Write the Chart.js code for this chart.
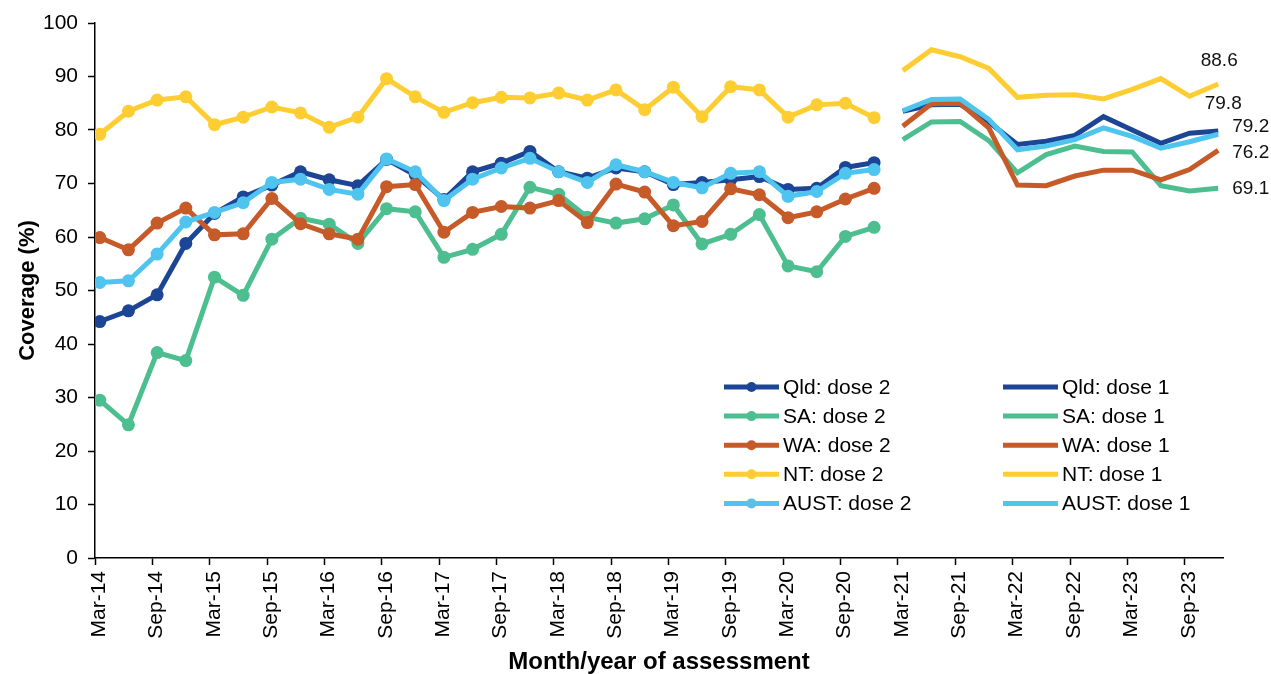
<!DOCTYPE html>
<html>
<head>
<meta charset="utf-8">
<script src="https://cdn.jsdelivr.net/npm/chart.js@4/dist/chart.umd.min.js"></script>
<style>
  html, body { margin: 0; padding: 0; background: #fff; }
  #wrap { width: 1271px; height: 674px; position: relative; }
</style>
</head>
<body>
<div id="wrap"><canvas id="chart"></canvas></div>
<script>
// Quarterly assessment rounds, March 2014 to December 2023
const quarters = [
  'Mar-14','Jun-14','Sep-14','Dec-14','Mar-15','Jun-15','Sep-15','Dec-15',
  'Mar-16','Jun-16','Sep-16','Dec-16','Mar-17','Jun-17','Sep-17','Dec-17',
  'Mar-18','Jun-18','Sep-18','Dec-18','Mar-19','Jun-19','Sep-19','Dec-19',
  'Mar-20','Jun-20','Sep-20','Dec-20','Mar-21','Jun-21','Sep-21','Dec-21',
  'Mar-22','Jun-22','Sep-22','Dec-22','Mar-23','Jun-23','Sep-23','Dec-23'
];
// Axis labels, one every six months
const tickLabels = [
  'Mar-14','Sep-14','Mar-15','Sep-15','Mar-16','Sep-16','Mar-17','Sep-17',
  'Mar-18','Sep-18','Mar-19','Sep-19','Mar-20','Sep-20','Mar-21','Sep-21',
  'Mar-22','Sep-22','Mar-23','Sep-23'
];

const states = ['Qld', 'SA', 'WA', 'NT', 'AUST'];
const stateColors = ['#1c4596', '#4dbe90', '#c75a29', '#fecd31', '#4fc4ef'];

// Dose 2 coverage (%), Mar-14 to Dec-20
const qldDose2  = [44.2, 46.2, 49.2, 58.8, 64.4, 67.5, 69.7, 72.2, 70.7, 69.6, 74.5, 71.6, 67.0, 72.2,
                   73.8, 76.0, 72.2, 71.0, 72.9, 72.2, 69.8, 70.2, 70.7, 71.3, 68.9, 69.1, 73.0, 73.9];
const saDose2   = [29.5, 24.9, 38.4, 36.9, 52.5, 49.1, 59.6, 63.5, 62.4, 58.8, 65.3, 64.7, 56.2, 57.7,
                   60.5, 69.3, 68.0, 63.7, 62.6, 63.4, 66.0, 58.7, 60.5, 64.2, 54.6, 53.5, 60.1, 61.8];
const waDose2   = [59.9, 57.6, 62.6, 65.4, 60.4, 60.6, 67.2, 62.5, 60.6, 59.6, 69.4, 69.8, 60.9, 64.6,
                   65.7, 65.4, 66.8, 62.7, 69.9, 68.4, 62.1, 62.9, 69.0, 67.9, 63.6, 64.7, 67.1, 69.1];
const ntDose2   = [79.2, 83.5, 85.6, 86.2, 81.0, 82.4, 84.3, 83.2, 80.5, 82.4, 89.6, 86.2, 83.3, 85.1,
                   86.1, 86.0, 86.9, 85.6, 87.5, 83.8, 88.0, 82.5, 88.1, 87.5, 82.4, 84.7, 85.0, 82.3];
const austDose2 = [51.5, 51.8, 56.8, 62.8, 64.6, 66.4, 70.2, 70.8, 68.9, 68.0, 74.6, 72.2, 66.8, 70.8,
                   72.9, 74.7, 72.2, 70.2, 73.5, 72.2, 70.2, 69.2, 71.9, 72.2, 67.6, 68.5, 71.9, 72.6];

// Dose 1 coverage (%), Mar-21 to Dec-23
const qldDose1  = [83.5, 84.7, 84.8, 81.5, 77.3, 77.9, 79.0, 82.5, 80.0, 77.5, 79.4, 79.8];
const saDose1   = [78.2, 81.5, 81.6, 78.0, 72.0, 75.4, 77.0, 76.0, 75.9, 69.6, 68.6, 69.1];
const waDose1   = [80.7, 84.9, 85.0, 80.4, 69.7, 69.6, 71.4, 72.5, 72.5, 70.7, 72.6, 76.2];
const ntDose1   = [91.1, 95.0, 93.7, 91.5, 86.1, 86.5, 86.6, 85.8, 87.6, 89.6, 86.3, 88.6];
const austDose1 = [83.6, 85.7, 85.8, 82.0, 76.3, 77.0, 78.2, 80.4, 78.8, 76.6, 77.8, 79.2];

const dose2Series = [qldDose2, saDose2, waDose2, ntDose2, austDose2];
const dose1Series = [qldDose1, saDose1, waDose1, ntDose1, austDose1];
const dose1Start = quarters.indexOf('Mar-21');

// The x axis counts months from March 2014; each assessment sits mid-month.
const monthOf = q => quarters.indexOf(q) * 3 + 0.5;
const toPoints = (values, startIdx) =>
  values.map((v, i) => ({ x: monthOf(quarters[startIdx + i]), y: v }));

// Label placement for the final dose 1 values (offsets from the last point)
const endLabelPlacement = [
  { dx: 5,  dy: -27, align: 'center' },  // Qld
  { dx: 14, dy: 0,   align: 'left' },    // SA
  { dx: 14, dy: 2,   align: 'left' },    // WA
  { dx: 1,  dy: -23, align: 'center' },  // NT
  { dx: 14, dy: -8,  align: 'left' }     // AUST
];

const LINE_W = 5;

const datasets = [];
dose2Series.forEach((vals, s) => datasets.push({
  label: states[s] + ': dose 2',
  data: toPoints(vals, 0),
  borderColor: stateColors[s],
  backgroundColor: stateColors[s],
  pointBackgroundColor: stateColors[s],
  borderWidth: LINE_W,
  pointRadius: 6.5,
  pointHoverRadius: 6.5,
  pointBorderWidth: 0,
  tension: 0,
  withMarkers: true
}));
dose1Series.forEach((vals, s) => datasets.push({
  label: states[s] + ': dose 1',
  data: toPoints(vals, dose1Start),
  borderColor: stateColors[s],
  backgroundColor: stateColors[s],
  borderWidth: LINE_W,
  pointRadius: 0,
  pointHoverRadius: 0,
  tension: 0,
  withMarkers: false,
  endLabel: endLabelPlacement[s]
}));
// later series paint over earlier ones
datasets.forEach((d, i) => { d.order = datasets.length - i; });

const FONT = '"Liberation Sans", Arial, Helvetica, sans-serif';

// Two-column legend inside the plot: dose 2 on the left, dose 1 on the right
const twoColumnLegend = {
  id: 'twoColumnLegend',
  afterDraw(chart) {
    const ctx = chart.ctx;
    const colX = [724, 1003];
    const rowY0 = 387, rowGap = 29.1, lineLen = 55, textGap = 4;
    ctx.save();
    ctx.font = '21px ' + FONT;
    ctx.textBaseline = 'middle';
    ctx.textAlign = 'left';
    chart.data.datasets.forEach((ds, i) => {
      const col = Math.floor(i / 5), row = i % 5;
      const x = colX[col], y = rowY0 + row * rowGap;
      ctx.strokeStyle = ds.borderColor;
      ctx.lineWidth = LINE_W;
      ctx.beginPath();
      ctx.moveTo(x, y);
      ctx.lineTo(x + lineLen, y);
      ctx.stroke();
      if (ds.withMarkers) {
        ctx.fillStyle = ds.borderColor;
        ctx.beginPath();
        ctx.arc(x + lineLen / 2, y, 5, 0, Math.PI * 2);
        ctx.fill();
      }
      ctx.fillStyle = '#000';
      ctx.fillText(ds.label, x + lineLen + textGap, y + 1);
    });
    ctx.restore();
  }
};

// Value labels at the last dose 1 point of each series
const endValueLabels = {
  id: 'endValueLabels',
  afterDatasetsDraw(chart) {
    const ctx = chart.ctx;
    ctx.save();
    ctx.font = '19px ' + FONT;
    ctx.fillStyle = '#111';
    ctx.textBaseline = 'middle';
    chart.data.datasets.forEach((ds, i) => {
      if (!ds.endLabel) return;
      const meta = chart.getDatasetMeta(i);
      const pt = meta.data[meta.data.length - 1];
      const value = ds.data[ds.data.length - 1].y;
      ctx.textAlign = ds.endLabel.align;
      ctx.fillText(value.toFixed(1), pt.x + ds.endLabel.dx, pt.y + ds.endLabel.dy);
    });
    ctx.restore();
  }
};

Chart.defaults.font.family = FONT;
Chart.defaults.color = '#000';

new Chart(document.getElementById('chart'), {
  type: 'line',
  data: { datasets },
  options: {
    responsive: true,
    maintainAspectRatio: false,
    animation: false,
    events: [],
    devicePixelRatio: 1,
    layout: { padding: { left: 15, top: 23, right: 48, bottom: 0 } },
    plugins: { legend: { display: false }, tooltip: { enabled: false } },
    scales: {
      x: {
        type: 'linear',
        min: 0,
        max: 118,   // January 2024
        afterBuildTicks: scale => { scale.ticks = tickLabels.map((_, i) => ({ value: i * 6 })); },
        afterFit: scale => { scale.height = 116; },
        ticks: {
          autoSkip: false,
          minRotation: 90,
          maxRotation: 90,
          padding: 6,
          labelOffset: 4,
          color: '#000',
          font: { size: 21 },
          callback: (value, index) => tickLabels[index]
        },
        grid: { drawOnChartArea: false, drawTicks: true, tickLength: 7, tickColor: '#000', tickWidth: 1.5 },
        border: { display: true, color: '#000', width: 1.5 },
        title: {
          display: true,
          text: 'Month/year of assessment',
          color: '#000',
          font: { size: 24, weight: 'bold' },
          padding: { top: 0, bottom: -3 }
        }
      },
      y: {
        min: 0,
        max: 100,
        afterFit: scale => { scale.width = 80; },
        ticks: { stepSize: 10, padding: 10, color: '#000', font: { size: 21 } },
        grid: { drawOnChartArea: false, drawTicks: true, tickLength: 7, tickColor: '#000', tickWidth: 1.5 },
        border: { display: true, color: '#000', width: 1.5 },
        title: {
          display: true,
          text: 'Coverage (%)',
          color: '#000',
          font: { size: 22, weight: 'bold' },
          padding: { top: 0, bottom: 0 }
        }
      }
    }
  },
  plugins: [endValueLabels, twoColumnLegend]
});
</script>
</body>
</html>
